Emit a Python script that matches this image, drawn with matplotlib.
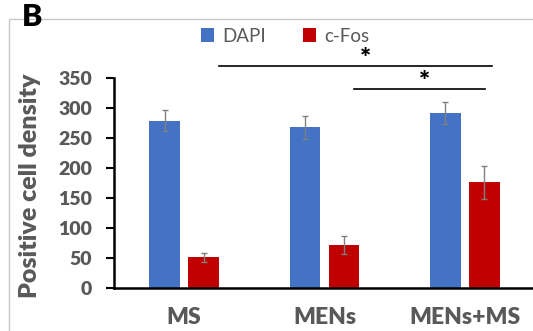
import numpy as np
import matplotlib
matplotlib.use("Agg")
import matplotlib.pyplot as plt
from matplotlib.patches import Rectangle

# data
groups = ["MS", "MENs", "MENs+MS"]
dapi = [279, 268, 292]
dapi_err = [18, 19, 18]
cfos = [51, 71, 176]
cfos_err = [8, 15, 28]
yticks = [0, 50, 100, 150, 200, 250, 300, 350]

# significance brackets: (x start, x end, y, star x)
sig_lines = [(0.25, 2.19, 370, 1.29), (1.21, 2.14, 332, 1.71)]

blue = "#4472C4"
red = "#C00000"
gray = "#595959"

plt.rcParams['font.family'] = ['Lato', 'DejaVu Sans']

fig = plt.figure(figsize=(5.33, 3.31), dpi=100)
ax = fig.add_axes([0.2139, 0.13, 0.79, 0.6344])

# light border around the panel
fig.patches.append(Rectangle((0.017, -0.05), 1.2, 0.9926, transform=fig.transFigure,
                             fill=False, edgecolor="#c8c8c8", lw=1))

x = np.arange(len(groups))
w = 0.22
off = 0.139
ekw = dict(ecolor="#808080", elinewidth=1, capsize=2.5, capthick=1)
ax.bar(x - off, dapi, w, yerr=dapi_err, color=blue, label="DAPI", error_kw=ekw)
ax.bar(x + off, cfos, w, yerr=cfos_err, color=red, label="c-Fos", error_kw=ekw)

ax.set_xlim(-0.5, 2.5)
ax.set_ylim(0, 350)
ax.set_yticks(yticks)
ax.set_xticks(x)
ax.set_xticklabels(groups)

for s in ["top", "right"]:
    ax.spines[s].set_visible(False)
ax.spines["left"].set_linewidth(1.8)
ax.spines["bottom"].set_linewidth(1.8)
ax.tick_params(axis="y", length=6, width=1.5, pad=10, labelsize=14, labelcolor=gray)
ax.tick_params(axis="x", length=0, pad=14, labelsize=16.5, labelcolor=gray)
for lab in ax.get_xticklabels() + ax.get_yticklabels():
    lab.set_fontweight("heavy")

fig.text(30.5 / 533, 0.4396, "Positive cell density", rotation=90, ha="center", va="center",
         fontsize=18, fontweight="heavy", color=gray)

# significance lines and stars
for x0, x1, y, xs in sig_lines:
    ax.plot([x0, x1], [y, y], color="black", lw=1.2, clip_on=False)
    ax.text(xs, y - 8, "*", ha="center", va="bottom",
            fontsize=19, fontweight="heavy", color="black", clip_on=False)

ax.legend(loc="center", bbox_to_anchor=(0.535, 0.891), bbox_transform=fig.transFigure,
          ncol=2, frameon=False, fontsize=13.5, labelcolor=gray, handlelength=0.7,
          handleheight=0.7, handletextpad=0.4, columnspacing=2.0)

fig.text(0.041, 0.906, "B", fontsize=22, fontweight="heavy", color="black", va="bottom")

fig.savefig("out.png", dpi=100)
